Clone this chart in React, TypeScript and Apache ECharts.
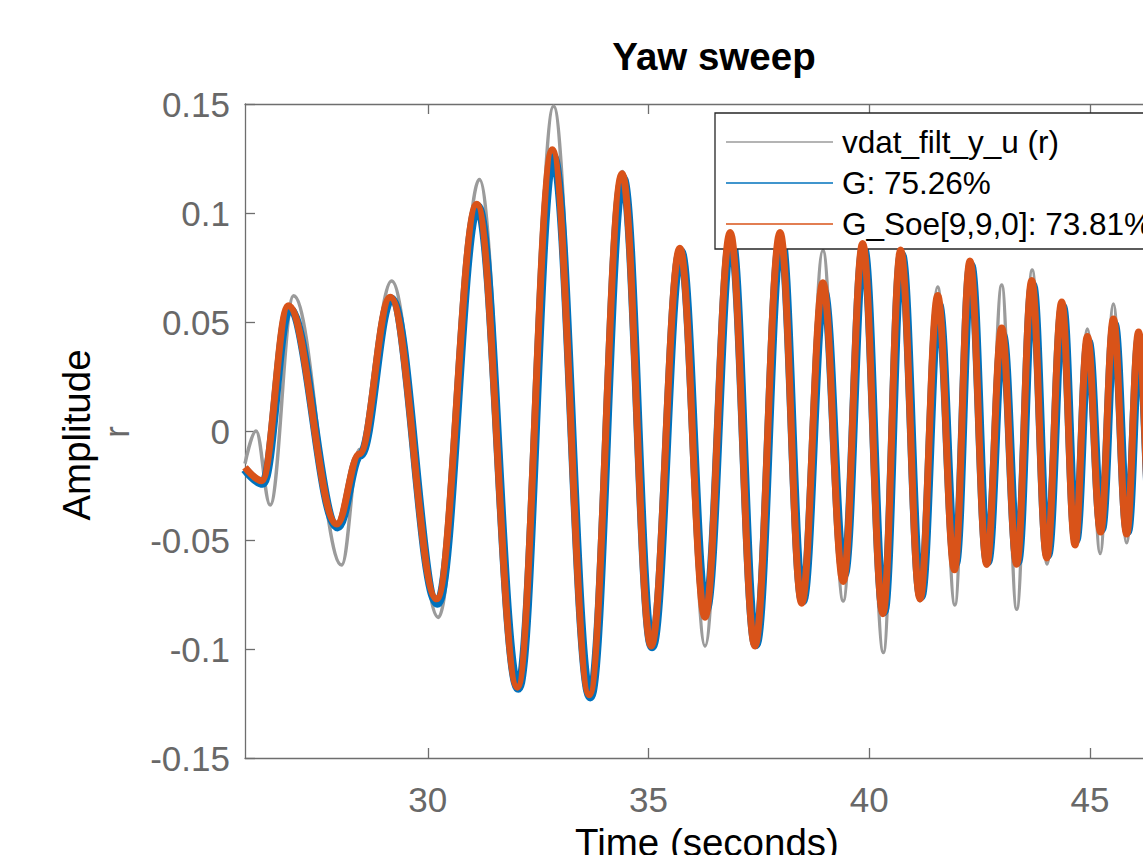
import React, { useEffect, useRef } from "react";
import * as echarts from "echarts";

const FONT = "'Liberation Sans', Arial, Helvetica, sans-serif";

const seriesNames = ["vdat_filt_y_u (r)", "G: 75.26%", "G_Soe[9,9,0]: 73.81%"];
const xTickValues = [30, 35, 40, 45];

// measured output (gray)
const measTime = [25.86, 26.11, 26.43, 26.96, 28.05, 28.45, 29.18, 30.24, 31.17, 32.05, 32.85, 33.67, 34.41, 35.07, 35.72, 36.28, 36.86, 37.42, 37.99, 38.48, 38.95, 39.41, 39.85, 40.32, 40.71, 41.15, 41.55, 41.94, 42.28, 42.66, 43.0, 43.34, 43.69, 44.03, 44.36, 44.66, 44.94, 45.23, 45.53, 45.83, 46.1, 46.38, 46.65];
const measValue = [-0.015, 0.0, -0.034, 0.062, -0.0615, -0.0085, 0.0688, -0.0855, 0.1154, -0.118, 0.149, -0.122, 0.119, -0.099, 0.084, -0.0986, 0.09, -0.0986, 0.09, -0.079, 0.0828, -0.078, 0.086, -0.1016, 0.083, -0.078, 0.066, -0.0798, 0.078, -0.062, 0.067, -0.0818, 0.0738, -0.061, 0.0595, -0.0525, 0.0468, -0.0562, 0.0583, -0.0513, 0.0454, -0.05, 0.045];

// model G (blue)
const gTime = [25.86, 26.26, 26.86, 27.96, 28.47, 29.17, 30.22, 31.13, 32.05, 32.84, 33.68, 34.42, 35.08, 35.73, 36.3, 36.87, 37.43, 38.0, 38.49, 38.97, 39.43, 39.87, 40.33, 40.73, 41.17, 41.57, 41.95, 42.3, 42.68, 43.02, 43.36, 43.7, 44.04, 44.38, 44.68, 44.96, 45.26, 45.55, 45.85, 46.12, 46.4, 46.67];
const gValue = [-0.0175, -0.024, 0.056, -0.044, -0.011, 0.0605, -0.079, 0.103, -0.118, 0.126, -0.122, 0.116, -0.099, 0.0825, -0.082, 0.089, -0.098, 0.089, -0.078, 0.064, -0.066, 0.084, -0.083, 0.081, -0.076, 0.058, -0.061, 0.076, -0.06, 0.044, -0.06, 0.067, -0.057, 0.057, -0.05, 0.041, -0.045, 0.049, -0.046, 0.043, -0.047, 0.043];

// model G_Soe (orange)
const soeTime = [25.86, 26.24, 26.84, 27.94, 28.45, 29.15, 30.2, 31.11, 32.03, 32.82, 33.66, 34.4, 35.06, 35.71, 36.28, 36.85, 37.41, 37.98, 38.47, 38.95, 39.41, 39.85, 40.31, 40.71, 41.15, 41.55, 41.93, 42.28, 42.66, 43.0, 43.34, 43.68, 44.02, 44.36, 44.66, 44.94, 45.24, 45.53, 45.83, 46.1, 46.38, 46.65];
const soeValue = [-0.0167, -0.0228, 0.0575, -0.0427, -0.0105, 0.0614, -0.077, 0.104, -0.1175, 0.129, -0.121, 0.118, -0.0986, 0.0838, -0.0854, 0.091, -0.0986, 0.091, -0.079, 0.068, -0.069, 0.086, -0.0838, 0.083, -0.077, 0.0621, -0.0637, 0.078, -0.0611, 0.0473, -0.0611, 0.069, -0.0582, 0.0592, -0.0523, 0.0434, -0.0463, 0.0514, -0.0473, 0.0454, -0.048, 0.044];

const X_MIN = 25.86;
const X_MAX = 46.88;

const zip = (t: number[], v: number[]) => t.map((x, i) => [x, v[i]]);

export default function App() {
  const ref = useRef<HTMLDivElement>(null);

  useEffect(() => {
    if (!ref.current) return;
    const chart = echarts.init(ref.current, undefined, { renderer: "svg" });
    const axisColor = "#6e6e6e";
    const labelColor = "#686868";

    const xBase = {
      type: "value" as const,
      min: X_MIN,
      max: X_MAX,
      splitLine: { show: false },
      axisLine: { show: true, onZero: false, lineStyle: { color: axisColor, width: 1.3 } },
      axisTick: { show: true, inside: true, length: 10, customValues: xTickValues, lineStyle: { color: axisColor, width: 1.3 } },
    };
    const yBase = {
      type: "value" as const,
      min: -0.15,
      max: 0.15,
      interval: 0.05,
      splitLine: { show: false },
      axisLine: { show: true, onZero: false, lineStyle: { color: axisColor, width: 1.3 } },
      axisTick: { show: true, inside: true, length: 10, lineStyle: { color: axisColor, width: 1.3 } },
    };

    const lineSeries = (name: string, t: number[], v: number[], color: string, width: number, z: number) => ({
      name,
      type: "line",
      data: zip(t, v),
      symbol: "none",
      smooth: 0.38,
      smoothMonotone: "x",
      lineStyle: { color, width },
      itemStyle: { color },
      z,
    });

    chart.setOption({
      animation: false,
      backgroundColor: "#ffffff",
      title: {
        text: "Yaw sweep",
        left: 709,
        textAlign: "center",
        top: 32,
        textStyle: { fontSize: 38.5, fontWeight: "bold", color: "#000", fontFamily: FONT },
      },
      grid: { left: 245, top: 104, width: 928, height: 654, containLabel: false },
      xAxis: [
        {
          ...xBase,
          position: "bottom",
          axisLabel: {
            show: true,
            customValues: xTickValues,
            margin: 24,
            color: labelColor,
            fontSize: 35,
            lineHeight: 35,
            fontFamily: FONT,
            formatter: (v: number) => String(v),
          },
        },
        { ...xBase, position: "top", axisLabel: { show: false } },
      ],
      yAxis: [
        {
          ...yBase,
          position: "left",
          axisLabel: {
            show: true,
            margin: 15,
            color: labelColor,
            fontSize: 35,
            fontFamily: FONT,
            formatter: (v: number) => String(Math.round(v * 100) / 100),
          },
        },
        { ...yBase, position: "right", axisLabel: { show: false } },
      ],
      legend: {
        left: 715,
        top: 113,
        orient: "vertical",
        align: "left",
        backgroundColor: "#ffffff",
        borderColor: "#262626",
        borderWidth: 1.3,
        padding: [12, 14, 8, 11],
        itemWidth: 107,
        itemHeight: 1.6,
        itemGap: 7,
        textStyle: { fontSize: 31.5, fontFamily: FONT, color: "#000", lineHeight: 34, padding: [0, 0, 0, 4] },
        data: seriesNames.map((n) => ({ name: n, icon: "rect" })),
      },
      series: [
        lineSeries(seriesNames[0], measTime, measValue, "#9b9b9b", 3.5, 2),
        lineSeries(seriesNames[1], gTime, gValue, "#0072BD", 9, 3),
        lineSeries(seriesNames[2], soeTime, soeValue, "#D95319", 7, 4),
      ],
      graphic: [
        {
          type: "text",
          x: 76.5,
          y: 435,
          rotation: Math.PI / 2,
          style: {
            text: "Amplitude",
            fontSize: 38.5,
            fontFamily: FONT,
            fill: "#000",
            textAlign: "center",
            textVerticalAlign: "middle",
          },
        },
        {
          type: "text",
          x: 116,
          y: 432,
          rotation: Math.PI / 2,
          style: {
            text: "r",
            fontSize: 35,
            fontFamily: FONT,
            fill: labelColor,
            textAlign: "center",
            textVerticalAlign: "middle",
          },
        },
        {
          type: "text",
          x: 707,
          y: 842,
          style: {
            text: "Time (seconds)",
            fontSize: 38.5,
            fontFamily: FONT,
            fill: "#000",
            textAlign: "center",
            textVerticalAlign: "middle",
          },
        },
      ],
    });

    return () => chart.dispose();
  }, []);

  return (
    <div
      style={{
        position: "absolute",
        left: 0,
        top: 0,
        width: 1143,
        height: 855,
        overflow: "hidden",
        background: "#fff",
      }}
    >
      <div ref={ref} style={{ width: 1200, height: 855 }} />
    </div>
  );
}
